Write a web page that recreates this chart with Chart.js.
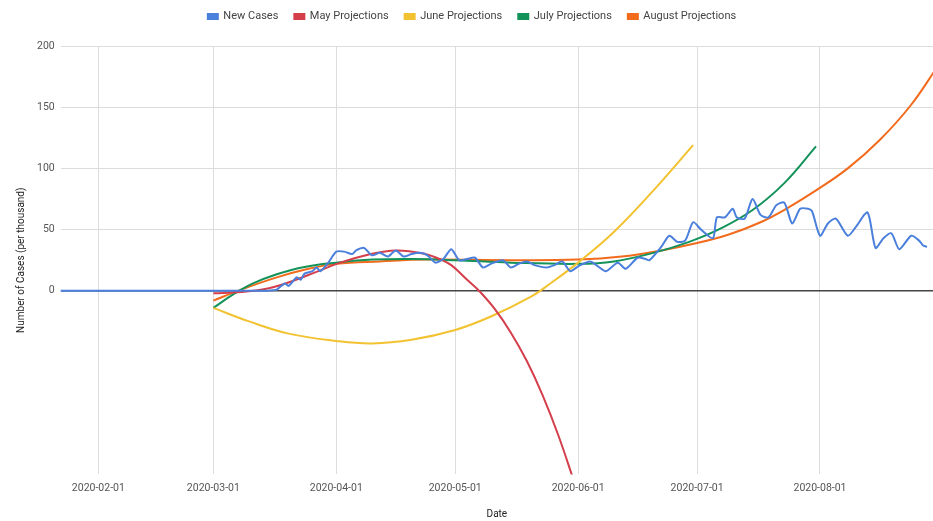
<!DOCTYPE html>
<html>
<head>
<meta charset="utf-8">
<script src="https://cdn.jsdelivr.net/npm/chart.js@4.4.0/dist/chart.umd.min.js"></script>
<style>
  html, body { margin: 0; padding: 0; background: #fff; }
  #wrap { width: 933px; height: 521px; }
</style>
</head>
<body>
<div id="wrap"><canvas id="casesChart"></canvas></div>
<script>
// x axis runs on "days since 2020-01-01"
const monthTicks = ['2020-02-01', '2020-03-01', '2020-04-01', '2020-05-01', '2020-06-01', '2020-07-01', '2020-08-01'];
const yTicks = [0, 50, 100, 150, 200];

const newCaseDates = ['2020-01-22', '2020-03-14', '2020-03-16', '2020-03-17', '2020-03-19', '2020-03-20', '2020-03-22', '2020-03-23',
    '2020-03-24', '2020-03-26', '2020-03-27', '2020-03-28', '2020-03-30', '2020-04-01', '2020-04-03', '2020-04-05', '2020-04-06',
    '2020-04-08', '2020-04-10', '2020-04-12', '2020-04-14', '2020-04-16', '2020-04-18', '2020-04-20', '2020-04-22', '2020-04-24',
    '2020-04-26', '2020-04-28', '2020-04-30', '2020-05-02', '2020-05-04', '2020-05-06', '2020-05-08', '2020-05-10', '2020-05-13',
    '2020-05-15', '2020-05-17', '2020-05-19', '2020-05-21', '2020-05-24', '2020-05-26', '2020-05-28', '2020-05-30', '2020-06-01',
    '2020-06-04', '2020-06-06', '2020-06-08', '2020-06-11', '2020-06-13', '2020-06-16', '2020-06-18', '2020-06-19', '2020-06-22',
    '2020-06-24', '2020-06-26', '2020-06-28', '2020-06-30', '2020-07-02', '2020-07-05', '2020-07-06', '2020-07-08', '2020-07-10',
    '2020-07-11', '2020-07-13', '2020-07-15', '2020-07-17', '2020-07-19', '2020-07-21', '2020-07-23', '2020-07-25', '2020-07-27',
    '2020-07-29', '2020-07-30', '2020-08-01', '2020-08-03', '2020-08-05', '2020-08-08', '2020-08-10', '2020-08-13', '2020-08-15',
    '2020-08-17', '2020-08-19', '2020-08-21', '2020-08-24', '2020-08-26', '2020-08-27', '2020-08-28'];
const newCases = [0, 0, 0.5, 1, 6, 4, 11, 9,
    14, 16, 19, 16, 23, 32, 32, 30, 33,
    35, 29, 31, 28, 33, 28, 30, 31, 29,
    23, 26, 34, 25, 26, 27, 19, 22, 25,
    19, 22, 24, 21, 19, 21, 24, 16, 20,
    24, 20, 16, 23, 18, 27, 26, 25, 36,
    45, 40, 41, 56, 50, 43, 60, 60, 67,
    60, 59, 75, 62, 60, 70, 72, 55, 67,
    67, 65, 45, 55, 59, 45, 52, 64, 35,
    43, 47, 34, 45, 41, 37, 36];

const mayDates = ['2020-03-01', '2020-03-08', '2020-03-15', '2020-03-21', '2020-03-27', '2020-04-02', '2020-04-09', '2020-04-16',
    '2020-04-23', '2020-04-27', '2020-04-30', '2020-05-04', '2020-05-07', '2020-05-11', '2020-05-15', '2020-05-19', '2020-05-23',
    '2020-05-27', '2020-05-31'];
const mayProj = [-2, -1, 2, 8, 15.5, 23, 29.5, 33, 30.5, 26, 21, 9, 0, -15, -34, -57, -85, -118, -156];

const juneDates = ['2020-03-01', '2020-03-10', '2020-03-20', '2020-04-01', '2020-04-10', '2020-04-20', '2020-05-01', '2020-05-10',
    '2020-05-20', '2020-05-25', '2020-06-01', '2020-06-10', '2020-06-20', '2020-06-30'];
const juneProj = [-14, -25, -35, -41, -43, -40, -32, -21, -5, 6, 23, 48, 82, 119];

const julyDates = ['2020-03-01', '2020-03-06', '2020-03-11', '2020-03-17', '2020-03-24', '2020-04-01', '2020-04-10', '2020-04-20',
    '2020-05-01', '2020-05-15', '2020-06-01', '2020-06-10', '2020-06-20', '2020-06-29', '2020-07-07', '2020-07-15', '2020-07-23',
    '2020-07-31'];
const julyProj = [-14, -3, 6, 13.5, 19.5, 23, 25.5, 26, 25, 23, 22, 24, 31, 40, 51, 66, 88, 118];

const augDates = ['2020-03-01', '2020-03-08', '2020-03-17', '2020-03-25', '2020-04-01', '2020-04-12', '2020-04-24', '2020-05-15',
    '2020-06-01', '2020-06-12', '2020-06-22', '2020-07-01', '2020-07-09', '2020-07-17', '2020-07-24', '2020-07-31', '2020-08-08',
    '2020-08-16', '2020-08-24', '2020-08-31'];
const augProj = [-8, 1, 11, 18, 22, 24, 25.5, 25, 25.5, 28, 33, 39, 46, 56, 68, 82, 100, 123, 152, 185];

const DAY = 86400000;
const origin = Date.parse('2020-01-01');
const toDay = s => (Date.parse(s) - origin) / DAY;
const toLabel = d => new Date(origin + Math.round(d) * DAY).toISOString().slice(0, 10);
const pts = (dates, vals) => dates.map((d, i) => ({ x: toDay(d), y: vals[i] }));

const series = [
    { label: 'New Cases', color: '#4a7fdc', data: pts(newCaseDates, newCases), tension: 0.25 },
    { label: 'May Projections', color: '#d43f4b', data: pts(mayDates, mayProj), tension: 0.4 },
    { label: 'June Projections', color: '#f2c230', data: pts(juneDates, juneProj), tension: 0.4 },
    { label: 'July Projections', color: '#13935a', data: pts(julyDates, julyProj), tension: 0.4 },
    { label: 'August Projections', color: '#f26b1d', data: pts(augDates, augProj), tension: 0.4 }
];

Chart.defaults.font.family = 'Roboto, "Noto Sans", sans-serif';
Chart.defaults.color = '#555';

// push the plot area down below the legend
const legendGap = {
    id: 'legendGap',
    beforeInit(chart) {
        const fit = chart.legend.fit;
        chart.legend.fit = function () {
            fit.bind(chart.legend)();
            this.height += 14;
        };
    }
};

new Chart(document.getElementById('casesChart'), {
    type: 'line',
    data: {
        datasets: series.map(s => ({
            label: s.label,
            data: s.data,
            borderColor: s.color,
            backgroundColor: s.color,
            borderWidth: 2,
            pointRadius: 0,
            tension: s.tension
        }))
    },
    options: {
        responsive: true,
        maintainAspectRatio: false,
        animation: false,
        layout: { padding: { top: -5, left: 11, right: 0, bottom: -3 } },
        plugins: {
            legend: {
                position: 'top',
                labels: {
                    boxWidth: 10,
                    boxHeight: 5,
                    padding: 16,
                    color: '#444',
                    font: { size: 11 }
                }
            },
            tooltip: { enabled: false }
        },
        scales: {
            x: {
                type: 'linear',
                min: toDay('2020-01-22') + 0.5,
                max: toDay('2020-08-29') + 0.5,
                afterBuildTicks: axis => {
                    axis.ticks = monthTicks.map(m => ({ value: toDay(m) }));
                },
                ticks: {
                    callback: v => toLabel(v),
                    maxRotation: 0,
                    padding: 8,
                    color: '#555',
                    font: { size: 10.5 }
                },
                grid: { color: '#dcdcdc', drawTicks: false },
                border: { display: false },
                title: { display: true, text: 'Date', color: '#222', font: { size: 10 }, padding: { top: 5 } }
            },
            y: {
                min: -150,
                max: 200,
                afterBuildTicks: axis => {
                    axis.ticks = [-150, -100, -50].concat(yTicks).map(v => ({ value: v }));
                },
                ticks: {
                    callback: v => (v < 0 ? '' : v),
                    padding: 6,
                    color: '#555',
                    font: { size: 10.5 }
                },
                grid: {
                    color: ctx => (ctx.tick.value === 0 ? '#444' : (ctx.tick.value < 0 ? 'rgba(0,0,0,0)' : '#dcdcdc')),
                    lineWidth: ctx => (ctx.tick.value === 0 ? 1.5 : 1),
                    drawTicks: false
                },
                border: { display: false },
                title: { display: true, text: 'Number of Cases (per thousand)', color: '#222', font: { size: 10 } }
            }
        }
    },
    plugins: [legendGap]
});
</script>
</body>
</html>
